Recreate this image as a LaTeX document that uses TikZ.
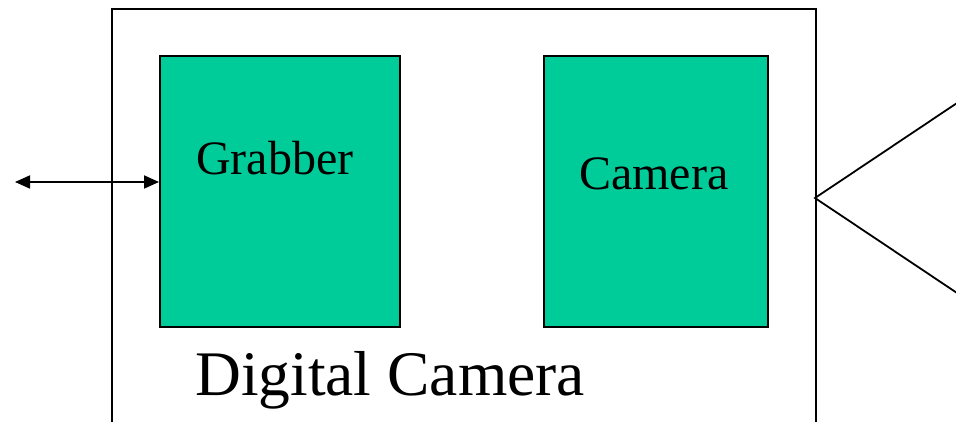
\documentclass[tikz,border=0pt]{standalone}
\usepackage{fontspec}
\setmainfont{Liberation Serif}
\usetikzlibrary{arrows.meta}
\definecolor{boxgreen}{HTML}{00CC99}
\tikzset{
  every picture/.style={x=1pt,y=-1pt},
  edge/.style={line width=1.8pt},
  unit/.style={draw, line width=1.8pt, fill=boxgreen, anchor=north west, inner sep=0pt},
  label/.style={anchor=base west, inner sep=0pt},
  link/.style={line width=1.8pt, {Triangle[length=15pt,width=13pt]}-{Triangle[length=15pt,width=13pt]}}
}
\begin{document}
\begin{tikzpicture}
\useasboundingbox (0,0) rectangle (956,422);
\clip (0,0) rectangle (956,422);
% enclosing housing
\node[draw, line width=1.8pt, anchor=north west, minimum width=704pt, minimum height=440pt, inner sep=0pt] (housing) at (111,8) {};
% internal units
\node[unit, minimum width=240pt, minimum height=271pt] (grabber) at (159,55) {};
\node[unit, minimum width=224pt, minimum height=271pt] (camera) at (543,55) {};
% captions
\node[label, font=\fontsize{48}{50}\selectfont] (tgrab) at (196,175) {Grabber};
\node[label, font=\fontsize{48}{50}\selectfont] (tcam) at (579,190) {Camera};
\node[label, font=\fontsize{63.5}{66}\selectfont] (tdc) at (195,395) {Digital Camera};
% external link into the grabber
\coordinate (ext) at (15,182);
\draw[link] (ext) -- (grabber.west |- ext);
% field of view
\coordinate (apex) at (815,198);
\coordinate (viewtop) at (966,97);
\coordinate (viewbot) at (966,299);
\draw[edge] (viewtop) -- (apex) -- (viewbot);
\end{tikzpicture}
\end{document}
